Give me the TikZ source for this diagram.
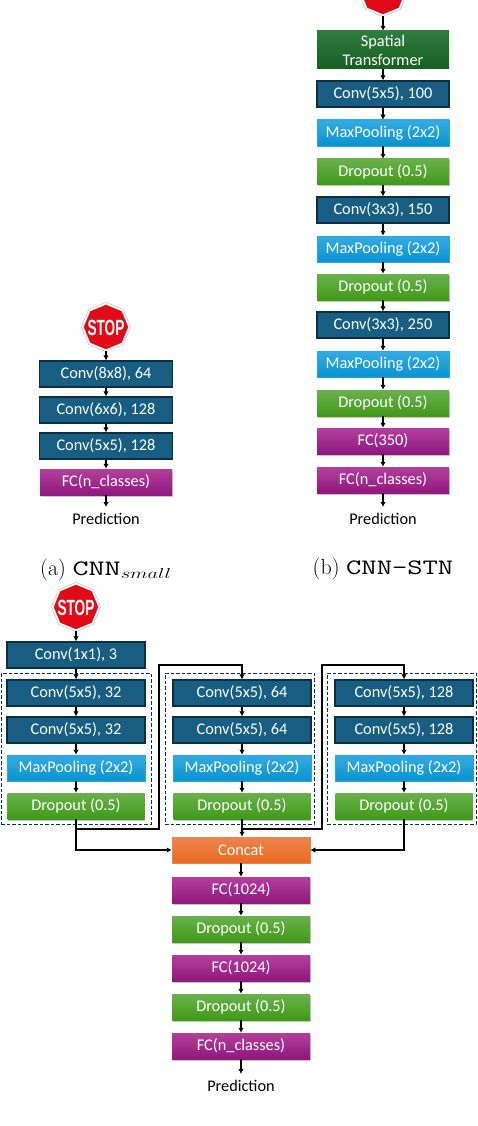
\documentclass[tikz,border=0pt]{standalone}
\usepackage{graphicx}
\usepackage{fontspec}
\setmainfont{Carlito}
\newfontfamily\stopfont[FakeStretch=0.62]{Liberation Sans}
\newfontfamily\capfont{Latin Modern Roman}
\usetikzlibrary{arrows.meta,shapes.geometric,shadows}
\definecolor{convfill}{HTML}{175E82}
\definecolor{convline}{HTML}{0C2F45}
\definecolor{pooltop}{HTML}{35ABE2}
\definecolor{poolbot}{HTML}{0993D0}
\definecolor{droptop}{HTML}{6AB14C}
\definecolor{dropbot}{HTML}{3F9A18}
\definecolor{fctop}{HTML}{B2409C}
\definecolor{fcbot}{HTML}{90177E}
\definecolor{cattop}{HTML}{EE8450}
\definecolor{catbot}{HTML}{EB6A1E}
\definecolor{stntop}{HTML}{2E7D3E}
\definecolor{stnbot}{HTML}{165F22}
\definecolor{stopred}{HTML}{E20A16}
\newcommand{\stoptext}{\makebox[0pt]{\smash{\raisebox{-8pt}{STOP}}}}
\tikzset{
  block/.style={minimum height=26, inner sep=0pt, text=white, font=\fontsize{16.3}{18}\selectfont, align=center},
  conv/.style={block, fill=convfill, draw=convline, line width=1.2pt},
  pool/.style={block, top color=pooltop, bottom color=poolbot, draw=pooltop!80!poolbot, line width=.5pt},
  drop/.style={block, top color=droptop, bottom color=dropbot, drop shadow={opacity=.45, shadow xshift=.8pt, shadow yshift=-1.5pt}},
  fc/.style={block, top color=fctop, bottom color=fcbot, drop shadow={opacity=.45, shadow xshift=.8pt, shadow yshift=-1.5pt}},
  concat/.style={block, top color=cattop, bottom color=catbot, draw=cattop, line width=.5pt},
  stn/.style={block, top color=stntop, bottom color=stnbot, minimum height=38, minimum width=132, text width=125},
  group/.style={draw=convline, dash pattern=on 3.5pt off 2pt, line width=.9pt, minimum height=151, inner sep=0pt},
  stopsign/.style={regular polygon, regular polygon sides=8, shape border rotate=22.5, minimum size=47, inner sep=0pt,
    fill=stopred, draw=gray!70, line width=.4pt, double=white, double distance=1.6pt, text=white, font=\stopfont\bfseries\fontsize{22}{22}\selectfont},
  pred/.style={inner sep=0pt, outer sep=1pt, font=\fontsize{16.3}{18}\selectfont, minimum height=22},
  subcap/.style={inner sep=0pt, font=\capfont\fontsize{22}{26}\selectfont},
  link/.style={-{Latex[length=5pt,width=5.5pt]}, line width=1.4pt, black}
}
\begin{document}
\begin{tikzpicture}[x=1pt, y=-1pt]
  \clip (0,0) rectangle (478,1126);
  % small net
  \node[stopsign] (astop) at (106,327) {\stoptext};
  \node[conv, minimum width=133] (aone) at (106,374) {Conv(8x8), 64};
  \node[conv, minimum width=133] (atwo) at (106,410) {Conv(6x6), 128};
  \node[conv, minimum width=133] (athree) at (106,446) {Conv(5x5), 128};
  \node[fc, minimum width=132] (afc) at (106,482) {FC(n\_classes)};
  \node[pred] (apred) at (106,519) {Prediction};
  \node[subcap] (acap) at (106,570) {(a) \scalebox{1.42}[1]{\texttt{CNN}$_{small}$}};
  \foreach \u/\v in {astop/aone, aone/atwo, atwo/athree, athree/afc, afc/apred} { \draw[link] (\u) -- (\v); }
  % stn net
  \node[stopsign] (bstop) at (383,-8) {\stoptext};
  \node[stn] (bstn) at (383,50) {Spatial\\[1pt]Transformer};
  \node[conv, minimum width=132] (bconva) at (383,94) {Conv(5x5), 100};
  \node[pool, minimum width=132] (bpoola) at (383,133) {MaxPooling (2x2)};
  \node[drop, minimum width=132] (bdropa) at (383,172) {Dropout (0.5)};
  \node[conv, minimum width=132] (bconvb) at (383,210) {Conv(3x3), 150};
  \node[pool, minimum width=132] (bpoolb) at (383,249) {MaxPooling (2x2)};
  \node[drop, minimum width=132] (bdropb) at (383,287) {Dropout (0.5)};
  \node[conv, minimum width=132] (bconvc) at (383,325) {Conv(3x3), 250};
  \node[pool, minimum width=132] (bpoolc) at (383,364) {MaxPooling (2x2)};
  \node[drop, minimum width=132] (bdropc) at (383,403) {Dropout (0.5)};
  \node[fc, minimum width=132] (bfca) at (383,441) {FC(350)};
  \node[fc, minimum width=132] (bfcb) at (383,480) {FC(n\_classes)};
  \node[pred] (bpred) at (383,519) {Prediction};
  \node[subcap] (bcap) at (383,569) {(b) \scalebox{1.35}[1]{\texttt{CNN-STN}}};
  \foreach \u/\v in {bstop/bstn, bstn/bconva, bconva/bpoola, bpoola/bdropa, bdropa/bconvb, bconvb/bpoolb, bpoolb/bdropb,
    bdropb/bconvc, bconvc/bpoolc, bpoolc/bdropc, bdropc/bfca, bfca/bfcb, bfcb/bpred} { \draw[link] (\u) -- (\v); }
  % multi-scale net
  \node[group, minimum width=150] (gone) at (76,748.5) {};
  \node[group, minimum width=149] (gtwo) at (239.5,748.5) {};
  \node[group, minimum width=149] (gthree) at (401.5,748.5) {};
  \node[stopsign] (cstop) at (76,607) {\stoptext};
  \node[conv, minimum width=138] (cin) at (76,655) {Conv(1x1), 3};
  \foreach \n/\x/\k in {one/76/32, two/242/64, three/404/128} {
    \node[conv, minimum width=138] (c\n a) at (\x,693) {Conv(5x5), \k};
    \node[conv, minimum width=138] (c\n b) at (\x,730) {Conv(5x5), \k};
    \node[pool, minimum width=138] (p\n) at (\x,768) {MaxPooling (2x2)};
    \node[drop, minimum width=137] (d\n) at (\x,806) {Dropout (0.5)};
    \draw[link] (c\n a) -- (c\n b);
    \draw[link] (c\n b) -- (p\n);
    \draw[link] (p\n) -- (d\n);
  }
  \node[concat, minimum width=138] (cat) at (241,850) {Concat};
  \node[fc, minimum width=138] (cfca) at (241,890) {FC(1024)};
  \node[drop, minimum width=138] (cdropa) at (241,929) {Dropout (0.5)};
  \node[fc, minimum width=138] (cfcb) at (241,968) {FC(1024)};
  \node[drop, minimum width=138] (cdropb) at (241,1007) {Dropout (0.5)};
  \node[fc, minimum width=138] (cfcc) at (241,1046) {FC(n\_classes)};
  \node[pred] (cpred) at (241,1086) {Prediction};
  \foreach \u/\v in {cstop/cin, cin/conea, cat/cfca, cfca/cdropa, cdropa/cfcb, cfcb/cdropb, cdropb/cfcc, cfcc/cpred} { \draw[link] (\u) -- (\v); }
  % skips
  \coordinate (skipa) at (159,829);
  \coordinate (skipb) at (159,665);
  \coordinate (skipc) at (322,829);
  \coordinate (skipd) at (322,665);
  \draw[link] (done.south) |- (skipa) -- (skipb) -| (ctwoa.north);
  \draw[link] (dtwo.south) |- (skipc) -- (skipd) -| (cthreea.north);
  \draw[link] (done.south) |- (cat.west);
  \draw[link] (dtwo.south) -- (dtwo.south |- cat.north);
  \draw[link] (dthree.south) |- (cat.east);
\end{tikzpicture}
\end{document}
